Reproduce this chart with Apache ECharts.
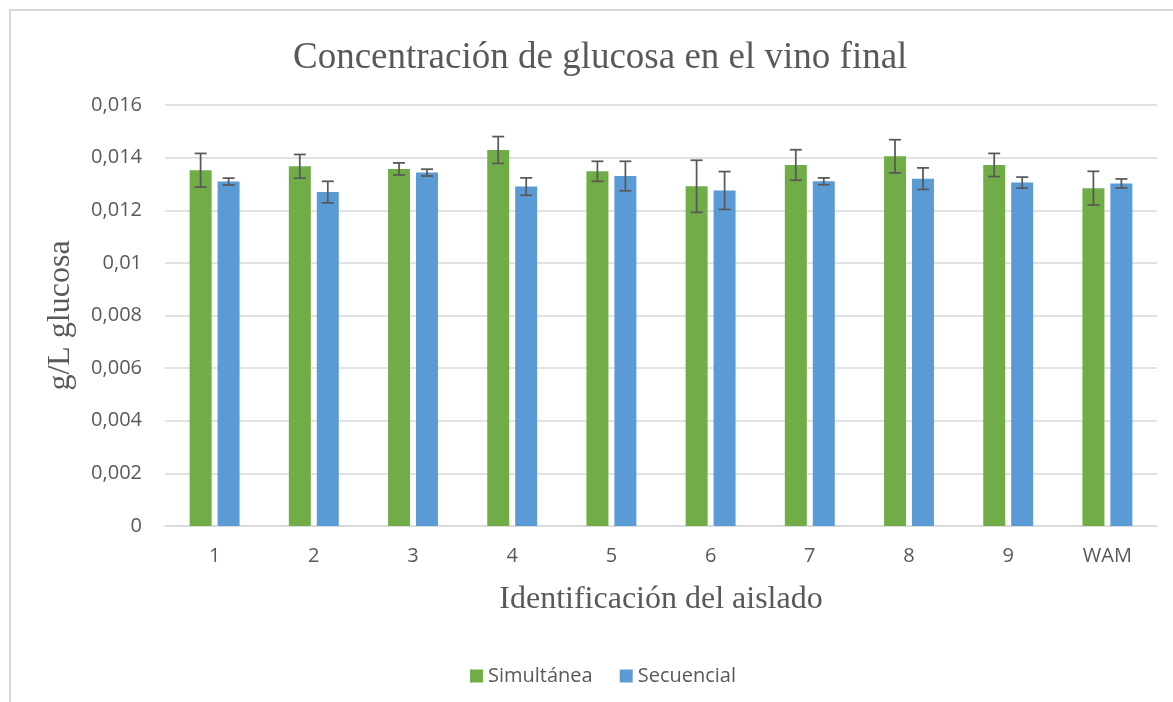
<!DOCTYPE html>
<html>
<head>
<meta charset="utf-8">
<script src="https://cdn.jsdelivr.net/npm/echarts@6/dist/echarts.min.js"></script>
<style>
  html, body { margin: 0; padding: 0; background: #fff; }
  #chart { width: 1173px; height: 702px; }
</style>
</head>
<body>
<div id="chart"></div>
<script>
// datos
const categories = ['1', '2', '3', '4', '5', '6', '7', '8', '9', 'WAM'];
const simultanea = [0.01352, 0.01367, 0.01357, 0.01429, 0.01348, 0.01291, 0.01372, 0.01405, 0.01372, 0.01284];
const simultaneaErr = [0.00064, 0.00045, 0.00023, 0.00051, 0.00038, 0.00099, 0.00058, 0.00063, 0.00044, 0.00064];
const secuencial = [0.01309, 0.01269, 0.01343, 0.0129, 0.0133, 0.01275, 0.0131, 0.0132, 0.01305, 0.01302];
const secuencialErr = [0.00013, 0.00041, 0.00013, 0.00033, 0.00056, 0.00072, 0.00013, 0.00041, 0.00021, 0.00017];
const yTickLabels = ['0', '0,002', '0,004', '0,006', '0,008', '0,01', '0,012', '0,014', '0,016'];

const GREEN = '#70AD47';
const BLUE = '#5B9BD5';
const TEXT = '#595959';
const SANS = '"Open Sans", "Noto Sans", sans-serif';
const SERIF = '"Liberation Serif", "DejaVu Serif", serif';

function errorSeries(name, values, errs, offset) {
  return {
    name: name + ' err',
    type: 'custom',
    silent: true,
    z: 5,
    data: values.map((v, i) => [i, v, errs[i]]),
    encode: { x: 0, y: 1 },
    renderItem(params, api) {
      const i = api.value(0);
      const v = api.value(1);
      const e = api.value(2);
      const top = api.coord([i, v + e]);
      const bot = api.coord([i, v - e]);
      const x = top[0] + offset;
      const half = 6;
      const style = { stroke: TEXT, lineWidth: 1.75 };
      return {
        type: 'group',
        children: [
          { type: 'line', shape: { x1: x, y1: top[1], x2: x, y2: bot[1] }, style },
          { type: 'line', shape: { x1: x - half, y1: top[1], x2: x + half, y2: top[1] }, style },
          { type: 'line', shape: { x1: x - half, y1: bot[1], x2: x + half, y2: bot[1] }, style },
        ],
      };
    },
  };
}

const chart = echarts.init(document.getElementById('chart'));
chart.setOption({
  animation: false,
  graphic: [
    {
      type: 'rect',
      shape: { x: 10, y: 10, width: 1200, height: 760 },
      style: { fill: 'none', stroke: '#d9d9d9', lineWidth: 2 },
      silent: true,
    },
  ],
  title: {
    text: 'Concentración de glucosa en el vino final',
    left: 288,
    top: 35,
    textStyle: { fontFamily: SERIF, fontSize: 37, fontWeight: 'normal', color: TEXT },
  },
  legend: {
    data: ['Simultánea', 'Secuencial'],
    left: 465,
    top: 661,
    itemWidth: 13,
    itemHeight: 13,
    itemGap: 27,
    icon: 'rect',
    textStyle: { fontFamily: SANS, fontSize: 20, color: TEXT },
  },
  grid: { left: 165, right: 16, top: 105, bottom: 176, containLabel: false },
  xAxis: {
    type: 'category',
    data: categories,
    name: 'Identificación del aislado',
    nameLocation: 'middle',
    nameGap: 58,
    nameTextStyle: { fontFamily: SERIF, fontSize: 32, color: TEXT },
    axisTick: { show: false },
    axisLine: { lineStyle: { color: '#d9d9d9', width: 1.5 } },
    axisLabel: { fontFamily: SANS, fontSize: 20, color: TEXT, margin: 20 },
  },
  yAxis: {
    type: 'value',
    min: 0,
    max: 0.016,
    interval: 0.002,
    name: 'g/L glucosa',
    nameLocation: 'middle',
    nameGap: 88,
    nameRotate: 90,
    nameTextStyle: { fontFamily: SERIF, fontSize: 32, color: TEXT },
    axisLine: { show: false },
    axisTick: { show: false },
    splitLine: { lineStyle: { color: '#d9d9d9', width: 1.5 } },
    axisLabel: {
      fontFamily: SANS,
      fontSize: 20,
      color: TEXT,
      margin: 23,
      formatter: (v) => yTickLabels[Math.round(v / 0.002)],
    },
  },
  series: [
    {
      name: 'Simultánea',
      type: 'bar',
      data: simultanea,
      barWidth: 22,
      barGap: '27%',
      itemStyle: { color: GREEN },
    },
    {
      name: 'Secuencial',
      type: 'bar',
      data: secuencial,
      barWidth: 22,
      itemStyle: { color: BLUE },
    },
    errorSeries('Simultánea', simultanea, simultaneaErr, -14),
    errorSeries('Secuencial', secuencial, secuencialErr, 14),
  ],
});
</script>
</body>
</html>
